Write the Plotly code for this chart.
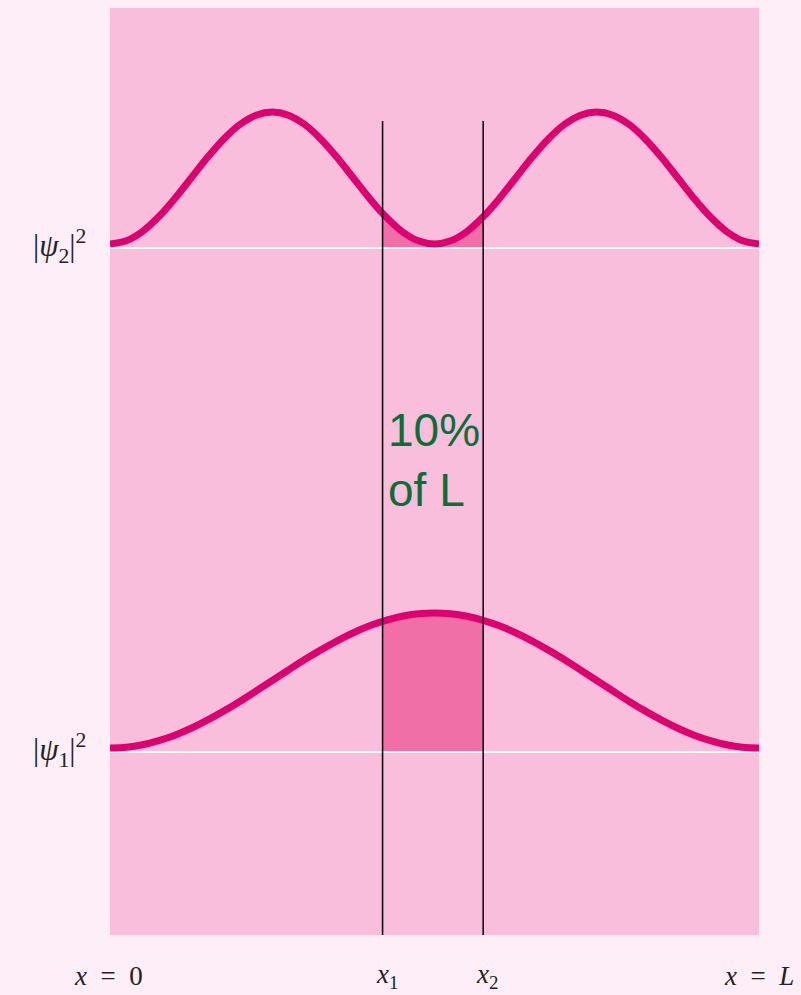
import plotly.graph_objects as go

# Position along the box, in units of L
x_pos = [0.000, 0.025, 0.050, 0.075, 0.100, 0.125, 0.150, 0.175, 0.200, 0.225, 0.250,
         0.275, 0.300, 0.325, 0.350, 0.375, 0.400, 0.420, 0.450, 0.475, 0.500,
         0.525, 0.550, 0.575, 0.600, 0.625, 0.650, 0.675, 0.700, 0.725, 0.750,
         0.775, 0.800, 0.825, 0.850, 0.875, 0.900, 0.925, 0.950, 0.975, 1.000]
# Relative probability density, ground state |psi_1|^2
psi1_sq = [0.000, 0.006, 0.024, 0.055, 0.095, 0.146, 0.206, 0.273, 0.345, 0.422, 0.500,
           0.578, 0.655, 0.727, 0.794, 0.854, 0.905, 0.938, 0.976, 0.994, 1.000,
           0.994, 0.976, 0.946, 0.905, 0.854, 0.794, 0.727, 0.655, 0.578, 0.500,
           0.422, 0.345, 0.273, 0.206, 0.146, 0.095, 0.055, 0.024, 0.006, 0.000]
# Relative probability density, first excited state |psi_2|^2
psi2_sq = [0.000, 0.024, 0.095, 0.206, 0.345, 0.500, 0.655, 0.794, 0.905, 0.976, 1.000,
           0.976, 0.905, 0.794, 0.655, 0.500, 0.345, 0.232, 0.095, 0.024, 0.000,
           0.024, 0.095, 0.206, 0.345, 0.500, 0.655, 0.794, 0.905, 0.976, 1.000,
           0.976, 0.905, 0.794, 0.655, 0.500, 0.345, 0.206, 0.095, 0.024, 0.000]
# Interval edges
x1, x2 = 0.42, 0.575
bottom_labels = ["<i>x</i>&nbsp;&nbsp;=&nbsp;&nbsp;0", "<i>x</i><sub>1</sub>", "<i>x</i><sub>2</sub>",
                 "<i>x</i>&nbsp;&nbsp;=&nbsp;&nbsp;<i>L</i>"]
bottom_label_x = [0.0, x1, x2, 1.0]

# Vertical layout of the two stacked curves (plot units)
PSI1_BASE, PSI1_AMP = 187, 135
PSI2_BASE, PSI2_AMP = 691, 132
AXIS_GAP = 4
LINE_TOP = 814

CURVE = "#df0070"
SHADE = "#f06fa6"
PANEL = "#f8bedb"
PAGE = "#fdeef8"

fig = go.Figure()


def add_state(vals, base, amp):
    ys = [base + amp * v for v in vals]
    # shaded area between x1 and x2
    sx = [x for x in x_pos if x1 <= x <= x2]
    sy = [y for x, y in zip(x_pos, ys) if x1 <= x <= x2]
    fig.add_trace(go.Scatter(x=sx, y=[base - AXIS_GAP] * len(sx), mode="lines",
                             line=dict(width=0, color=SHADE), hoverinfo="skip"))
    fig.add_trace(go.Scatter(x=sx, y=sy, mode="lines", line=dict(width=0, color=SHADE, shape="spline"),
                             fill="tonexty", fillcolor=SHADE, hoverinfo="skip"))
    # white reference axis
    fig.add_trace(go.Scatter(x=[0, 1], y=[base - AXIS_GAP] * 2, mode="lines",
                             line=dict(width=2, color="white"), hoverinfo="skip"))
    # probability density curve
    fig.add_trace(go.Scatter(x=x_pos, y=ys, mode="lines",
                             line=dict(width=7, color=CURVE, shape="spline", smoothing=0.8)))


add_state(psi2_sq, PSI2_BASE, PSI2_AMP)
add_state(psi1_sq, PSI1_BASE, PSI1_AMP)

# interval boundaries
for xv in (x1, x2):
    fig.add_trace(go.Scatter(x=[xv, xv], y=[0, LINE_TOP], mode="lines",
                             line=dict(width=1.6, color="#111111"), hoverinfo="skip"))

serif = dict(family="Liberation Serif, DejaVu Serif, serif", size=27, color="#222222")
side = dict(family="Liberation Serif, DejaVu Serif, serif", size=31, color="#222222")

annotations = []
for txt, xv, dx in zip(bottom_labels, bottom_label_x, (-2, 4, 4, 0)):
    annotations.append(dict(x=xv, y=-0.044, xref="x", yref="paper", text=txt, showarrow=False,
                            xanchor="center", yanchor="middle", xshift=dx, font=serif))
for txt, base in (("|<i>ψ</i><sub>2</sub>|<sup>2</sup>", PSI2_BASE),
                  ("|<i>ψ</i><sub>1</sub>|<sup>2</sup>", PSI1_BASE)):
    annotations.append(dict(x=-0.034, y=base - 2, xref="paper", yref="y", text=txt, showarrow=False,
                            xanchor="right", yanchor="middle", font=side))
annotations.append(dict(x=x1 + 0.006, y=475, xref="x", yref="y", text="10%<br>of L", showarrow=False,
                        xanchor="left", yanchor="middle", align="left",
                        font=dict(family="Liberation Sans, Arial, sans-serif", size=46, color="#0b6e36")))

fig.update_layout(
    width=801, height=995,
    margin=dict(l=110, r=42, t=8, b=60),
    paper_bgcolor=PAGE, plot_bgcolor=PANEL,
    showlegend=False,
    annotations=annotations,
    xaxis=dict(range=[0, 1], visible=False, fixedrange=True),
    yaxis=dict(range=[0, 927], visible=False, fixedrange=True),
)

fig.write_html("out.html")
